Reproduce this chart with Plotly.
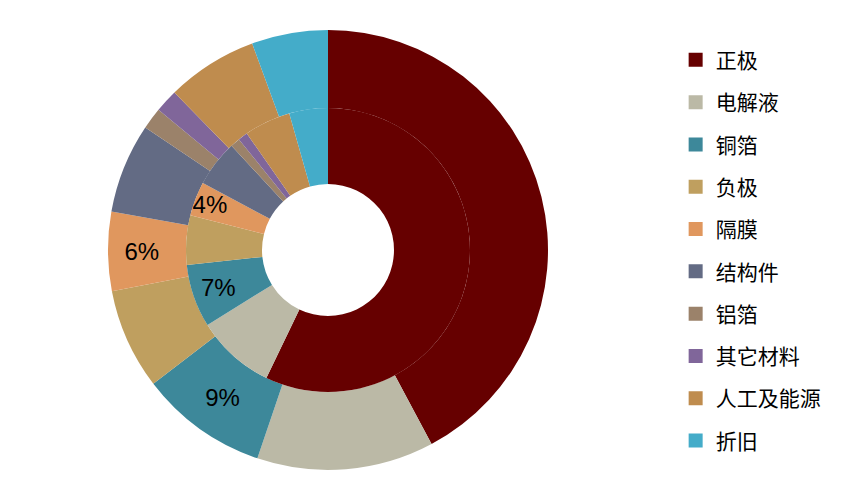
import plotly.graph_objects as go

categories = ["正极", "电解液", "铜箔", "负极", "隔膜", "结构件", "铝箔", "其它材料", "人工及能源", "折旧"]
outer_values = [42.2, 13.0, 9.4, 7.4, 5.8, 6.6, 1.6, 1.7, 6.7, 5.6]
inner_values = [57.2, 9.0, 7.2, 5.6, 3.9, 5.3, 1.1, 1.1, 5.3, 4.4]
outer_labels = ["", "", "9%", "", "6%", "", "", "", "", ""]
inner_labels = ["", "", "7%", "", "4%", "", "", "", "", ""]
colors = ["#660000", "#BBB9A6", "#3D889A", "#BF9F5F", "#E0975E",
          "#636B84", "#9B826A", "#80669A", "#BF8C4E", "#44ACC9"]

W, H = 864, 496
cx, cy = 328, 246  # centre in paper pixels (y from bottom)
R_out, R_mid, R_hole = 220, 142, 66


def dom(r):
    return dict(x=[(cx - r) / W, (cx + r) / W], y=[(cy - r) / H, (cy + r) / H])


fig = go.Figure()
fig.add_trace(go.Pie(
    labels=categories, values=outer_values, text=outer_labels,
    textinfo="text", textposition="inside", insidetextorientation="horizontal",
    textfont=dict(family="Liberation Sans, Arial", size=24, color="black"),
    marker=dict(colors=colors, line=dict(width=0)),
    sort=False, direction="clockwise", rotation=0,
    hole=R_mid / R_out, domain=dom(R_out), showlegend=False,
))
fig.add_trace(go.Pie(
    labels=categories, values=inner_values, text=inner_labels,
    textinfo="text", textposition="inside", insidetextorientation="horizontal",
    textfont=dict(family="Liberation Sans, Arial", size=24, color="black"),
    marker=dict(colors=colors, line=dict(width=0)),
    sort=False, direction="clockwise", rotation=0,
    hole=R_hole / R_mid, domain=dom(R_mid), showlegend=False,
))

for name, col in zip(categories, colors):
    fig.add_trace(go.Scatter(
        x=[None], y=[None], mode="markers", name=name,
        marker=dict(symbol="square", size=14, color=col),
        legendgroup=name, showlegend=True, hoverinfo="skip",
    ))

fig.update_layout(
    width=W, height=H,
    margin=dict(l=0, r=0, t=0, b=0),
    paper_bgcolor="white", plot_bgcolor="white",
    xaxis=dict(visible=False), yaxis=dict(visible=False),
    uniformtext=dict(minsize=20, mode="show"),
    legend=dict(
        x=0.782, y=0.92, xanchor="left", yanchor="top",
        font=dict(family="Noto Sans CJK SC", size=21, color="black"),
        tracegroupgap=12, itemsizing="trace",
        bgcolor="rgba(0,0,0,0)",
    ),
)

fig.write_html("out.html")
